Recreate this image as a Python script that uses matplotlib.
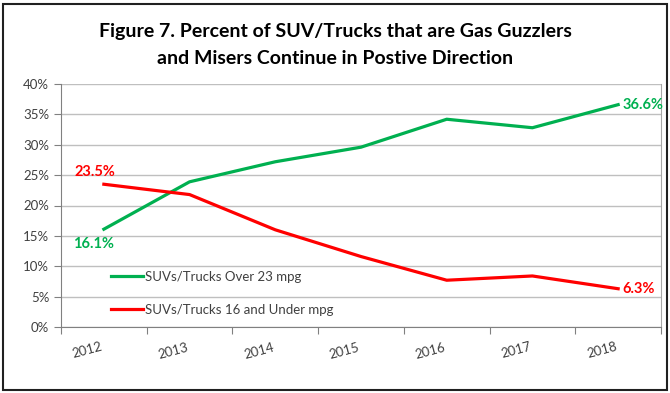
import matplotlib
matplotlib.use("Agg")
import matplotlib.pyplot as plt
from matplotlib.patches import Rectangle

years = ["2012", "2013", "2014", "2015", "2016", "2017", "2018"]
over23 = [16.1, 23.9, 27.2, 29.6, 34.2, 32.8, 36.6]
under16 = [23.5, 21.8, 16.0, 11.6, 7.7, 8.4, 6.3]
yticks = [0, 5, 10, 15, 20, 25, 30, 35, 40]
title = "Figure 7. Percent of SUV/Trucks that are Gas Guzzlers\nand Misers Continue in Postive Direction"
GREEN = "#00B050"
RED = "#FF0000"
TXT = "#404040"

plt.rcParams['font.family'] = ['Lato', 'DejaVu Sans']

W, H = 670, 393
fig = plt.figure(figsize=(W/100, H/100), dpi=100)
ax = fig.add_axes([61/W, 1-327/H, 600/W, 243/H])

x = list(range(len(years)))
l1, = ax.plot(x, over23, color=GREEN, lw=2.3, solid_joinstyle='round', label="SUVs/Trucks Over 23 mpg")
l2, = ax.plot(x, under16, color=RED, lw=2.3, solid_joinstyle='round', label="SUVs/Trucks 16 and Under mpg")

ax.set_xlim(-0.5, len(years)-0.5)
ax.set_ylim(0, 40)
ax.set_yticks(yticks)
ax.set_yticklabels([f"{v}%" for v in yticks], color=TXT, fontsize=9.5)
ax.set_xticks([i - 0.5 for i in range(len(years)+1)], minor=False)
ax.set_xticklabels([""]*(len(years)+1))
ax.set_xticks(x, minor=True)
ax.set_xticklabels(years, minor=True, rotation=15, ha='right', va='top', color=TXT, fontsize=9.5)
ax.tick_params(axis='x', which='minor', length=0, pad=10)
ax.tick_params(axis='x', which='major', length=5, color='#808080', direction='out')
ax.tick_params(axis='y', length=5, color='#808080', direction='out')
ax.grid(axis='y', color='#BFBFBF', lw=1.0)
ax.set_axisbelow(True)
ax.spines['top'].set_visible(False)
ax.spines['right'].set_color('#A6A6A6')
ax.spines['left'].set_color('#808080')
ax.spines['bottom'].set_color('#808080')

ax.annotate(f"{under16[0]}%", (0, under16[0]), xytext=(-21, 9), textcoords='offset points',
            color=RED, fontweight='bold', fontsize=10.5, ha='left', va='center')
ax.annotate(f"{over23[0]}%", (0, over23[0]), xytext=(-22, -10.5), textcoords='offset points',
            color=GREEN, fontweight='bold', fontsize=10.5, ha='left', va='center')
ax.annotate(f"{over23[-1]}%", (6, over23[-1]), xytext=(3, 0), textcoords='offset points',
            color=GREEN, fontweight='bold', fontsize=10.5, ha='left', va='center')
ax.annotate(f"{under16[-1]}%", (6, under16[-1]), xytext=(3, 0), textcoords='offset points',
            color=RED, fontweight='bold', fontsize=10.5, ha='left', va='center')

leg = ax.legend(loc='upper left', bbox_to_anchor=(38/600, 68/243), frameon=False,
                fontsize=9.5, labelspacing=1.6, handlelength=2.4, handletextpad=0.15)
for t in leg.get_texts():
    t.set_color(TXT)

fig.text(335/W, 1-45/H, title, ha='center', va='center', fontsize=14, fontweight='bold',
         color='black', linespacing=1.75)

fig.patches.append(Rectangle((3/W, 3/H), 664/W, 386/H, transform=fig.transFigure,
                             fill=False, edgecolor='#202020', lw=1.5))

fig.savefig("out.png", dpi=100)
